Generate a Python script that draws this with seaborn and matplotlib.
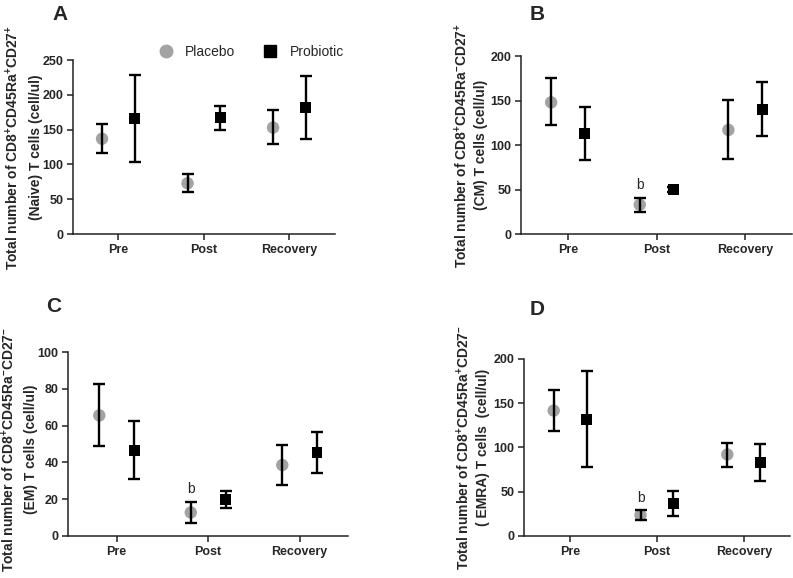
import numpy as np
import pandas as pd
import seaborn as sns
from matplotlib import pyplot as plt
from matplotlib.lines import Line2D

times = ['Pre', 'Post', 'Recovery']
groups = ['Placebo', 'Probiotic']

# mean, lower and upper end of the error bar, per panel and group
a_placebo = [137, 73, 153]
a_placebo_lo = [116, 60, 129]
a_placebo_hi = [158, 86, 179]
a_probiotic = [166, 167, 182]
a_probiotic_lo = [104, 150, 137]
a_probiotic_hi = [228, 184, 227]

b_placebo = [148, 33, 117]
b_placebo_lo = [122, 25, 84]
b_placebo_hi = [175, 41, 151]
b_probiotic = [113, 50, 140]
b_probiotic_lo = [83, 47, 110]
b_probiotic_hi = [143, 53, 171]

c_placebo = [65.5, 12.7, 38.5]
c_placebo_lo = [48.6, 6.9, 27.8]
c_placebo_hi = [82.6, 18.5, 49.4]
c_probiotic = [46.6, 19.8, 45.5]
c_probiotic_lo = [30.7, 15.0, 34.3]
c_probiotic_hi = [62.4, 24.3, 56.6]

d_placebo = [141.6, 23.4, 92]
d_placebo_lo = [119, 18, 78]
d_placebo_hi = [164.6, 29, 105]
d_probiotic = [131, 36.5, 83]
d_probiotic_lo = [77.6, 22, 62]
d_probiotic_hi = [186, 50.5, 104]

ylabels = [
    'Total number of CD8$^{+}$CD45Ra$^{+}$CD27$^{+}$\n(Naive) T cells (cell/ul)',
    'Total number of CD8$^{+}$CD45Ra$^{-}$CD27$^{+}$\n(CM) T cells (cell/ul)',
    'Total number of CD8$^{+}$CD45Ra$^{-}$CD27$^{-}$\n(EM) T cells (cell/ul)',
    'Total number of CD8$^{+}$CD45Ra$^{+}$CD27$^{-}$\n( EMRA) T cells  (cell/ul)',
]
letters = ['A', 'B', 'C', 'D']
ylims = [250, 200, 100, 200]
ysteps = [50, 50, 20, 50]
mark_b = [False, True, True, True]

colors = {'Placebo': '#a3a3a3', 'Probiotic': '#000000'}
markers = {'Placebo': 'o', 'Probiotic': 's'}
sizes = {'Placebo': 80, 'Probiotic': 62}
offsets = {'Placebo': -0.19, 'Probiotic': 0.19}


def makeFrame(pl, pl_lo, pl_hi, pr, pr_lo, pr_hi):
    rows = []
    for i, t in enumerate(times):
        rows.append(('Placebo', t, i, pl[i], pl_lo[i], pl_hi[i]))
        rows.append(('Probiotic', t, i, pr[i], pr_lo[i], pr_hi[i]))
    df = pd.DataFrame(rows, columns=['group', 'time', 'idx', 'mean', 'lo', 'hi'])
    df['x'] = df['idx'] + df['group'].map(offsets)
    return df


frames = [
    makeFrame(a_placebo, a_placebo_lo, a_placebo_hi, a_probiotic, a_probiotic_lo, a_probiotic_hi),
    makeFrame(b_placebo, b_placebo_lo, b_placebo_hi, b_probiotic, b_probiotic_lo, b_probiotic_hi),
    makeFrame(c_placebo, c_placebo_lo, c_placebo_hi, c_probiotic, c_probiotic_lo, c_probiotic_hi),
    makeFrame(d_placebo, d_placebo_lo, d_placebo_hi, d_probiotic, d_probiotic_lo, d_probiotic_hi),
]

sns.set_style("ticks")
plt.rcParams['font.family'] = ['Liberation Sans', 'DejaVu Sans']
plt.rcParams['mathtext.default'] = 'regular'

fig = plt.figure(figsize=(7.93, 5.78), dpi=100)
# axes boxes in figure fractions
boxes = [
    [0.092, 0.595, 0.330, 0.301],
    [0.657, 0.595, 0.342, 0.308],
    [0.086, 0.073, 0.353, 0.318],
    [0.661, 0.073, 0.335, 0.306],
]
letter_pos = [(0.066, 0.975), (0.668, 0.975), (0.058, 0.47), (0.668, 0.465)]
label_x = [-0.113, -0.12, -0.107, -0.128]
label_y = [0.5, 0.5, 0.47, 0.5]
label_spacing = [1.75, 1.35, 1.65, 1.35]

for k, df in enumerate(frames):
    ax = fig.add_axes(boxes[k])
    sns.scatterplot(data=df, x='x', y='mean', hue='group', style='group',
                    palette=colors, markers=markers, size='group', sizes=sizes,
                    linewidth=0, legend=False, ax=ax, zorder=2)
    for g in groups:
        sub = df[df['group'] == g]
        ax.errorbar(sub['x'], sub['mean'],
                    yerr=[sub['mean'] - sub['lo'], sub['hi'] - sub['mean']],
                    fmt='none', ecolor='black', elinewidth=1.7, capsize=4,
                    capthick=1.7, zorder=3)
    if mark_b[k]:
        sub = df[(df['group'] == 'Placebo') & (df['time'] == 'Post')]
        ax.annotate('b', (sub['x'].iloc[0], sub['hi'].iloc[0]), xytext=(0, 4),
                    textcoords='offset points', ha='center', va='bottom',
                    fontsize=10)

    ax.set_xlim(-0.53, 2.53)
    ax.set_ylim(0, ylims[k])
    ax.set_yticks(np.arange(0, ylims[k] + 1, ysteps[k]))
    ax.set_xticks(range(len(times)))
    ax.set_xticklabels(times)
    ax.set_xlabel('')
    ax.set_ylabel(ylabels[k], fontsize=10, fontweight='bold',
                  linespacing=label_spacing[k])
    ax.yaxis.set_label_coords(label_x[k], label_y[k])
    for lab in ax.get_xticklabels() + ax.get_yticklabels():
        lab.set_fontweight('bold')
        lab.set_fontsize(9)
    ax.tick_params(width=1.1, length=4, color='#222222', pad=3)
    for side in ['left', 'bottom']:
        ax.spines[side].set_linewidth(1.1)
        ax.spines[side].set_color('#222222')
    sns.despine(ax=ax)
    fig.text(letter_pos[k][0], letter_pos[k][1], letters[k], fontsize=15,
             fontweight='bold', ha='left', va='center')

    if k == 0:
        handles = [
            Line2D([], [], marker='o', linestyle='none', color=colors['Placebo'],
                   markersize=9),
            Line2D([], [], marker='s', linestyle='none', color=colors['Probiotic'],
                   markersize=8),
        ]
        ax.legend(handles, groups, ncol=2, frameon=False, loc='center',
                  bbox_to_anchor=(0.317, 0.91), bbox_transform=fig.transFigure,
                  fontsize=10, columnspacing=2.0, handletextpad=0.9,
                  handlelength=1.0)

fig.savefig('out.png', dpi=100)
